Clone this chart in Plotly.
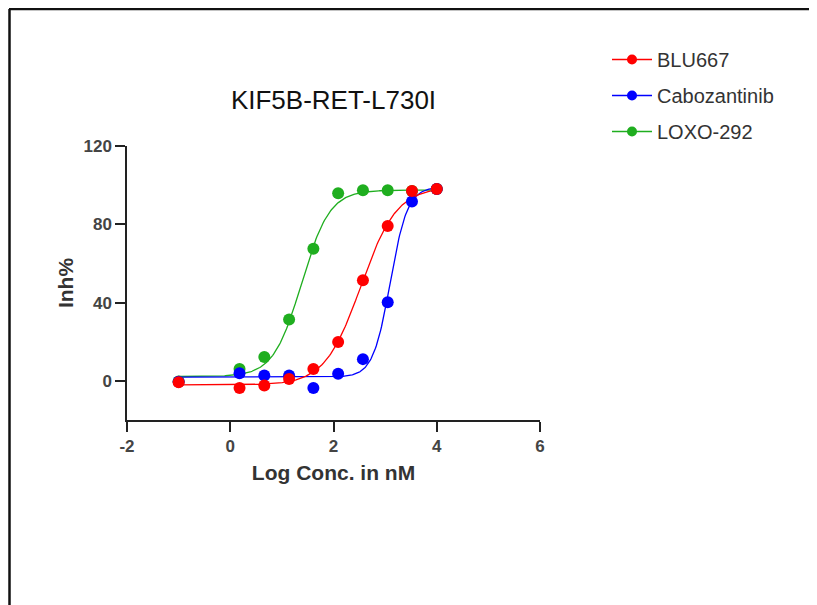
import numpy as np
import plotly.graph_objects as go

# ---- data ----
log_conc = [-1.0, 0.18, 0.66, 1.14, 1.61, 2.09, 2.57, 3.05, 3.52, 4.0]

blu667_inh = [-0.7, -3.7, -2.4, 0.9, 6.0, 19.8, 51.4, 79.1, 97.0, 98.0]
cabo_inh = [-0.5, 3.9, 2.7, 2.7, -3.7, 3.6, 11.1, 40.2, 91.6, 98.0]
loxo_inh = [-0.3, 6.0, 12.2, 31.3, 67.5, 95.9, 97.4, 97.4, 97.0, 98.0]

# 4PL fit parameters (bottom, top, logIC50, hill) estimated from the drawn curves
blu667_fit = (-2.1, 99.0, 2.53, 1.25)
cabo_fit = (1.9, 99.0, 3.10, 2.6)
loxo_fit = (2.2, 97.5, 1.38, 1.6)

names = ["BLU667", "Cabozantinib", "LOXO-292"]
colors = ["#FF0000", "#0000FF", "#1FAE1F"]

x_ticks = [-2, 0, 2, 4, 6]
x_ticktext = ["-2", "0", "2", "4", "6"]
y_ticks = [0, 40, 80, 120]

OFF = 8  # page body margin
W, H = 817 - OFF, 605 - OFF
ML, MR, MT, MB = 127 - OFF, 277, 146 - OFF, 185
PW, PH = W - ML - MR, H - MT - MB


def px_x(p):  # page pixel -> paper x
    return (p - OFF - ML) / PW


def px_y(p):  # page pixel -> paper y
    return (H - MB - (p - OFF)) / PH


def fourpl(x, params):
    b, t, c, h = params
    x = np.asarray(x)
    return b + (t - b) / (1 + 10 ** ((c - x) * h))


fig = go.Figure()
series = [
    (names[2], loxo_inh, loxo_fit, colors[2], 3),
    (names[1], cabo_inh, cabo_fit, colors[1], 2),
    (names[0], blu667_inh, blu667_fit, colors[0], 1),
]
xs = np.linspace(min(log_conc), max(log_conc), 300)
for name, ys, fit, col, rank in series:
    fig.add_trace(go.Scatter(x=xs, y=fourpl(xs, fit), mode="lines",
                             line=dict(color=col, width=1.3),
                             showlegend=False, hoverinfo="skip"))
for name, ys, fit, col, rank in series:
    fig.add_trace(go.Scatter(x=log_conc, y=ys, mode="markers", name=name,
                             marker=dict(color=col, size=12),
                             showlegend=False))
    fig.add_trace(go.Scatter(x=[None], y=[None], mode="lines+markers", name=name,
                             legendgroup=name, legendrank=rank,
                             line=dict(color=col, width=1.5),
                             marker=dict(color=col, size=10)))

font = "Liberation Sans, Arial, sans-serif"
fig.update_layout(
    width=W, height=H,
    margin=dict(l=ML, r=MR, t=MT, b=MB),
    paper_bgcolor="white", plot_bgcolor="white",
    font=dict(family=font, color="#333333"),
    title=dict(text="KIF5B-RET-L730I", x=0.5, xref="paper",
               y=1 - (100 - OFF) / H, yanchor="middle",
               font=dict(size=26, color="#111111", family=font)),
    xaxis=dict(range=[-2, 6], tickvals=x_ticks, ticktext=["<b>%s</b>" % t for t in x_ticktext],
               showgrid=False, zeroline=False, showline=True,
               linecolor="#222222", linewidth=1.5,
               ticks="outside", ticklen=10, tickwidth=1.5, tickcolor="#222222",
               tickfont=dict(size=17, color="#444444"),
               title=dict(text="<b>Log Conc. in nM</b>", standoff=10,
                          font=dict(size=21, color="#333333"))),
    yaxis=dict(range=[-20, 120], tickvals=y_ticks, ticktext=["<b>%d</b>" % t for t in y_ticks],
               showgrid=False, zeroline=False, showline=True,
               linecolor="#222222", linewidth=1.5,
               ticks="outside", ticklen=10, tickwidth=1.5, tickcolor="#222222",
               tickfont=dict(size=17, color="#444444"),
               title=dict(text="<b>Inh%</b>", standoff=4,
                          font=dict(size=21, color="#333333"))),
    legend=dict(x=px_x(607), y=px_y(40), xanchor="left", yanchor="top",
                traceorder="grouped", tracegroupgap=7, itemwidth=40,
                font=dict(size=20, color="#333333"),
                bgcolor="rgba(0,0,0,0)"),
    shapes=[
        dict(type="line", xref="paper", yref="paper",
             x0=px_x(9), x1=px_x(817), y0=px_y(9), y1=px_y(9),
             line=dict(color="#111111", width=2.5)),
        dict(type="line", xref="paper", yref="paper",
             x0=px_x(9.5), x1=px_x(9.5), y0=px_y(9), y1=px_y(605),
             line=dict(color="#111111", width=2.5)),
    ],
)

fig.write_html("out.html")
